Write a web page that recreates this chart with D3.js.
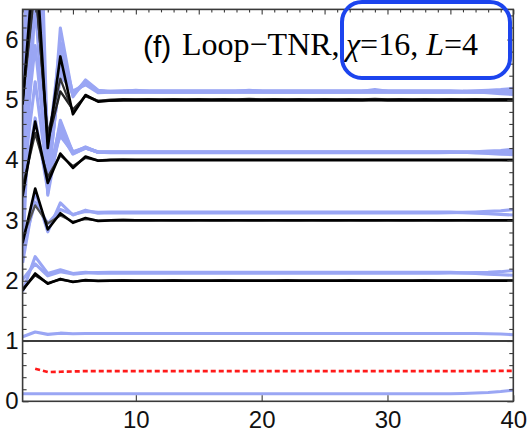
<!DOCTYPE html>
<html>
<head>
<meta charset="utf-8">
<script src="https://cdn.jsdelivr.net/npm/d3@7"></script>
<style>
  html, body { margin: 0; padding: 0; background: #fff; }
  svg { display: block; }
</style>
</head>
<body>
<svg id="chart" width="528" height="432"></svg>
<script>
// RG step index
const steps = [1,2,3,4,5,6,7,8,9,10, 11,12,13,14,15,16,17,18,19,20,
               21,22,23,24,25,26,27,28,29,30, 31,32,33,34,35,36,37,38,39,40];

// Z2-even scaling dimensions (black / dark gray)
const eps1 = [1,1,1,1,1,1,1,1,1,1, 1,1,1,1,1,1,1,1,1,1, 1,1,1,1,1,1,1,1,1,1, 1,1,1,1,1,1,1,1,1,1];
const even2a = [1.84,2.12,1.95,2.03,1.98,2.01,1.995,2,2,2, 2,2,2,2,2,2,2,2,2,2, 2,2,2,2,2,2,2,2,2,2, 2,2,2,2,2,2,2,2,2,2];
const even2b = [1.86,2.09,1.96,2.02,1.985,2.005,2,2.005,2.008,2.005, 2.006,2.005,2.007,2.006,2.005,2.006,2.007,2.005,2.006,2.005, 2.006,2.007,2.005,2.006,2.005,2.006,2.007,2.006,2.005,2.006, 2.005,2.006,2.007,2.005,2.006,2.005,2.006,2.005,2.004,2.003];
const even3a = [2.62,3.53,2.85,3.12,2.96,3.04,2.99,3,3.005,3, 3,3,3,3,3,3,3,3,3,3, 3,3,3,3,3,3,3,3,3,3, 3,3,3,3,3,3,3,3,3,3];
const even3b = [2.72,3.25,2.95,3.08,2.98,3.02,3,3.006,3.008,3.006, 3.006,3.007,3.006,3.006,3.007,3.006,3.006,3.007,3.006,3.006, 3.007,3.006,3.006,3.007,3.006,3.006,3.007,3.006,3.006,3.007, 3.006,3.006,3.007,3.006,3.006,3.007,3.006,3.005,3.004,3.003];
const even4a = [3.40,4.64,3.62,4.11,3.87,4.06,3.99,4,4,4, 4,4,4,4,4,4,4,4,4,4, 4,4,4,4,4,4,4,4,4,4, 4,4,4,4,4,4,4,4,4,4];
const even4b = [3.55,4.45,3.72,4.08,3.90,4.04,3.995,4.006,4.01,4.006, 4.006,4.007,4.006,4.006,4.007,4.006,4.006,4.007,4.006,4.006, 4.007,4.006,4.006,4.007,4.006,4.006,4.007,4.006,4.006,4.007, 4.006,4.006,4.007,4.006,4.006,4.007,4.006,4.005,4.004,4.003];
const even5a = [4.92,7.60,4.20,5.72,4.76,5.08,4.97,4.99,5,5, 5,5,5,5,5,5,5,5,5,5, 5,5,5,5,5,5,5,5,5,5, 5,5,5,5,5,5,5,5,5,5];
const even5b = [5.02,7.00,4.32,5.14,4.84,5.06,4.98,4.985,4.99,4.99, 4.988,4.99,4.99,4.988,4.99,4.99,4.988,4.99,4.99,4.988, 4.99,4.99,4.988,4.99,4.99,4.988,4.99,4.99,4.995,4.99, 4.988,4.99,4.99,4.988,4.99,4.99,4.988,4.99,4.99,4.99];
const even5c = [4.96,6.90,4.42,5.35,4.80,5.07,4.985,5.005,5.012,5.01, 5.012,5.01,5.012,5.01,5.012,5.01,5.012,5.01,5.015,5.01, 5.012,5.01,5.012,5.01,5.012,5.01,5.012,5.01,5.018,5.01, 5.012,5.01,5.012,5.01,5.012,5.01,5.012,5.01,5.012,5.01];

// Z2-odd scaling dimensions (light blue)
const odd0 = [0.125,0.125,0.125,0.125,0.125,0.125,0.125,0.125,0.125,0.125, 0.125,0.125,0.125,0.125,0.125,0.125,0.125,0.125,0.125,0.125, 0.125,0.125,0.125,0.125,0.125,0.125,0.125,0.125,0.125,0.125, 0.125,0.125,0.125,0.125,0.126,0.13,0.137,0.147,0.162,0.185];
const odd1 = [1.07,1.15,1.11,1.13,1.12,1.125,1.125,1.125,1.125,1.125, 1.125,1.125,1.125,1.125,1.125,1.125,1.125,1.125,1.125,1.125, 1.125,1.125,1.125,1.125,1.125,1.125,1.125,1.125,1.125,1.125, 1.125,1.125,1.125,1.125,1.125,1.125,1.124,1.12,1.115,1.105];
const odd2a = [1.82,2.40,2.12,2.18,2.12,2.14,2.125,2.13,2.125,2.125, 2.125,2.125,2.125,2.125,2.125,2.125,2.125,2.125,2.125,2.125, 2.125,2.125,2.125,2.125,2.125,2.125,2.125,2.125,2.125,2.125, 2.125,2.125,2.125,2.125,2.127,2.13,2.135,2.14,2.15,2.17];
const odd2b = [2.02,2.28,2.08,2.15,2.11,2.13,2.135,2.14,2.14,2.14, 2.14,2.14,2.14,2.14,2.14,2.14,2.14,2.14,2.14,2.14, 2.14,2.14,2.14,2.14,2.14,2.14,2.14,2.14,2.14,2.14, 2.14,2.14,2.14,2.14,2.138,2.13,2.12,2.11,2.10,2.09];
const odd3a = [2.30,3.48,2.81,3.29,3.09,3.17,3.12,3.13,3.125,3.125, 3.125,3.125,3.125,3.125,3.125,3.125,3.125,3.125,3.125,3.125, 3.125,3.125,3.125,3.125,3.125,3.125,3.125,3.125,3.125,3.125, 3.125,3.125,3.125,3.125,3.128,3.133,3.14,3.15,3.16,3.18];
const odd3b = [2.55,3.30,2.95,3.18,3.10,3.15,3.135,3.14,3.14,3.14, 3.14,3.14,3.14,3.14,3.14,3.14,3.14,3.14,3.14,3.14, 3.14,3.14,3.14,3.14,3.14,3.14,3.14,3.14,3.14,3.14, 3.14,3.14,3.14,3.14,3.138,3.13,3.12,3.11,3.10,3.09];
const odd4a = [3.40,4.70,3.50,4.66,4.12,4.22,4.13,4.125,4.125,4.125, 4.125,4.125,4.125,4.125,4.125,4.125,4.125,4.125,4.125,4.125, 4.125,4.125,4.125,4.125,4.125,4.125,4.125,4.125,4.125,4.125, 4.125,4.125,4.125,4.125,4.128,4.133,4.14,4.15,4.16,4.18];
const odd4b = [3.75,6.90,3.58,4.45,4.10,4.20,4.14,4.14,4.14,4.14, 4.14,4.14,4.14,4.14,4.14,4.14,4.14,4.14,4.14,4.14, 4.14,4.14,4.14,4.14,4.14,4.14,4.14,4.14,4.14,4.14, 4.14,4.14,4.14,4.14,4.138,4.13,4.12,4.11,4.10,4.09];
const odd4c = [2.30,7.40,3.42,4.55,4.14,4.21,4.13,4.13,4.13,4.13, 4.13,4.13,4.13,4.13,4.13,4.13,4.13,4.13,4.13,4.13, 4.13,4.13,4.13,4.13,4.13,4.13,4.13,4.13,4.13,4.13, 4.13,4.13,4.13,4.13,4.13,4.13,4.13,4.13,4.13,4.13];
const odd4d = [3.10,6.60,3.65,4.60,4.11,4.20,4.13,4.13,4.13,4.13, 4.13,4.13,4.13,4.13,4.13,4.13,4.13,4.13,4.13,4.13, 4.13,4.13,4.13,4.13,4.13,4.13,4.13,4.13,4.13,4.13, 4.13,4.13,4.13,4.13,4.13,4.13,4.13,4.13,4.13,4.13];
const odd4e = [3.60,5.30,3.70,4.50,4.12,4.21,4.13,4.13,4.13,4.13, 4.13,4.13,4.13,4.13,4.13,4.13,4.13,4.13,4.13,4.13, 4.13,4.13,4.13,4.13,4.13,4.13,4.13,4.13,4.13,4.13, 4.13,4.13,4.13,4.13,4.13,4.13,4.13,4.13,4.13,4.13];
const odd4f = [4.00,5.90,3.85,4.40,4.13,4.20,4.13,4.13,4.13,4.13, 4.13,4.13,4.13,4.13,4.13,4.13,4.13,4.13,4.13,4.13, 4.13,4.13,4.13,4.13,4.13,4.13,4.13,4.13,4.13,4.13, 4.13,4.13,4.13,4.13,4.13,4.13,4.13,4.13,4.13,4.13];
const odd5a = [5.10,8.50,3.45,6.19,5.05,5.33,5.16,5.13,5.14,5.16, 5.14,5.13,5.13,5.13,5.13,5.13,5.13,5.14,5.16,5.14, 5.13,5.13,5.13,5.13,5.13,5.13,5.13,5.14,5.17,5.14, 5.13,5.13,5.13,5.13,5.135,5.14,5.15,5.16,5.17,5.19];
const odd5b = [4.80,8.00,3.62,5.50,5.10,5.28,5.14,5.14,5.15,5.15, 5.15,5.15,5.15,5.15,5.15,5.15,5.15,5.15,5.15,5.15, 5.15,5.15,5.15,5.15,5.15,5.15,5.15,5.15,5.15,5.15, 5.15,5.15,5.15,5.15,5.148,5.14,5.13,5.12,5.10,5.09];
const odd5c = [4.50,7.80,3.80,5.40,5.15,5.25,5.12,5.125,5.125,5.125, 5.125,5.125,5.125,5.125,5.125,5.125,5.125,5.125,5.125,5.125, 5.125,5.125,5.125,5.125,5.125,5.125,5.125,5.125,5.125,5.125, 5.125,5.125,5.125,5.125,5.125,5.125,5.125,5.125,5.125,5.125];
const odd5d = [4.20,9.00,3.55,5.60,5.12,5.27,5.14,5.13,5.13,5.13, 5.13,5.13,5.13,5.13,5.13,5.13,5.13,5.13,5.13,5.13, 5.13,5.13,5.13,5.13,5.13,5.13,5.13,5.13,5.13,5.13, 5.13,5.13,5.13,5.13,5.13,5.13,5.13,5.13,5.13,5.13];
const odd5e = [3.60,7.20,3.90,5.80,5.08,5.30,5.15,5.14,5.14,5.14, 5.14,5.14,5.14,5.14,5.14,5.14,5.14,5.14,5.14,5.14, 5.14,5.14,5.14,5.14,5.14,5.14,5.14,5.14,5.14,5.14, 5.14,5.14,5.14,5.14,5.14,5.14,5.14,5.14,5.14,5.14];
const odd5f = [5.20,11.0,4.10,5.95,5.10,5.31,5.15,5.13,5.13,5.13, 5.13,5.13,5.13,5.13,5.13,5.13,5.13,5.13,5.13,5.13, 5.13,5.13,5.13,5.13,5.13,5.13,5.13,5.13,5.13,5.13, 5.13,5.13,5.13,5.13,5.13,5.13,5.13,5.13,5.13,5.13];

// Central charge estimate (red dotted), defined from step 2
const central = [null,0.54,0.485,0.49,0.495,0.5,0.5,0.5,0.5,0.5, 0.5,0.5,0.5,0.5,0.5,0.5,0.5,0.5,0.5,0.5, 0.5,0.5,0.5,0.5,0.5,0.5,0.5,0.5,0.5,0.5, 0.5,0.5,0.5,0.5,0.5,0.5,0.5,0.502,0.504,0.506];

const xTickValues = [10, 20, 30, 40];
const yTickValues = [0, 1, 2, 3, 4, 5, 6];

const oddSeries = [odd0, odd1, odd2a, odd2b, odd3a, odd3b,
                   odd4f, odd4e, odd4d, odd4c, odd4b, odd4a,
                   odd5f, odd5e, odd5d, odd5c, odd5b, odd5a];
const evenSeries = [
  { v: eps1,   c: "#3c3c3c", w: 2.2 },
  { v: even2b, c: "#222222", w: 2.4 },
  { v: even2a, c: "#000000", w: 2.6 },
  { v: even3b, c: "#555555", w: 2.2 },
  { v: even3a, c: "#000000", w: 2.6 },
  { v: even4b, c: "#333333", w: 2.4 },
  { v: even4a, c: "#000000", w: 2.6 },
  { v: even5b, c: "#222222", w: 2.4 },
  { v: even5c, c: "#333333", w: 2.2 },
  { v: even5a, c: "#000000", w: 2.6 }
];

const svg = d3.select("#chart");
const L = 22.6, R = 513.3, T = 9.4, B = 401.3;
const x = d3.scaleLinear().domain([1, 40]).range([L, R]);
const y = d3.scaleLinear().domain([0, 6.5]).range([B, T]);

svg.append("defs").append("clipPath").attr("id", "plotClip")
  .append("rect").attr("x", L).attr("y", T).attr("width", R - L).attr("height", B - T);

const line = d3.line()
  .defined(d => d[1] !== null)
  .x(d => x(d[0]))
  .y(d => y(d[1]));
const pts = vals => steps.map((s, i) => [s, vals[i]]);

const plot = svg.append("g").attr("clip-path", "url(#plotClip)");

plot.selectAll("path.odd").data(oddSeries).join("path")
  .attr("class", "odd")
  .attr("d", v => line(pts(v)))
  .attr("fill", "none")
  .attr("stroke", "#9aa6f4")
  .attr("stroke-width", 3.1)
  .attr("stroke-linejoin", "round");

plot.selectAll("path.even").data(evenSeries).join("path")
  .attr("class", "even")
  .attr("d", s => line(pts(s.v)))
  .attr("fill", "none")
  .attr("stroke", s => s.c)
  .attr("stroke-width", s => s.w)
  .attr("stroke-linejoin", "round");

plot.append("path")
  .attr("d", line(pts(central)))
  .attr("fill", "none")
  .attr("stroke", "#ff1a1a")
  .attr("stroke-width", 2.7)
  .attr("stroke-dasharray", "5,3");

// Frame and ticks
const axisColor = "#3a3a3a";
const styleAxis = g => {
  g.select(".domain").remove();
  g.selectAll(".tick line").attr("stroke", axisColor).attr("stroke-width", 1.1);
  g.selectAll(".tick text")
    .attr("fill", "#111")
    .style("font-family", "'Liberation Sans', Arial, sans-serif")
    .style("font-size", "24px");
};

const yMinor = d3.range(0, 6.5, 0.2).filter(v => Math.abs(v - Math.round(v)) > 1e-6);
const xMinorTop = d3.range(1, 41, 1);

// left
svg.append("g").attr("transform", `translate(${L},0)`)
  .call(d3.axisLeft(y).tickValues(yMinor).tickSize(-4).tickFormat(""))
  .call(styleAxis);
svg.append("g").attr("transform", `translate(${L},0)`)
  .call(d3.axisLeft(y).tickValues(yTickValues).tickSize(-6).tickPadding(4).tickFormat(d3.format("d")))
  .call(styleAxis);
// right
svg.append("g").attr("transform", `translate(${R},0)`)
  .call(d3.axisRight(y).tickValues(yMinor).tickSize(-4).tickFormat(""))
  .call(styleAxis);
svg.append("g").attr("transform", `translate(${R},0)`)
  .call(d3.axisRight(y).tickValues(yTickValues).tickSize(-6).tickFormat(""))
  .call(styleAxis);
// bottom
svg.append("g").attr("transform", `translate(0,${B})`)
  .call(d3.axisBottom(x).tickValues(xTickValues).tickSize(-6).tickPadding(10).tickFormat(d3.format("d")))
  .call(styleAxis);
// top
svg.append("g").attr("transform", `translate(0,${T})`)
  .call(d3.axisTop(x).tickValues(xMinorTop.filter(v => v % 5 !== 0)).tickSize(-3).tickFormat(""))
  .call(styleAxis);
svg.append("g").attr("transform", `translate(0,${T})`)
  .call(d3.axisTop(x).tickValues(xMinorTop.filter(v => v % 5 === 0)).tickSize(-5).tickFormat(""))
  .call(styleAxis);

svg.append("rect")
  .attr("x", L).attr("y", T).attr("width", R - L).attr("height", B - T)
  .attr("fill", "none").attr("stroke", axisColor).attr("stroke-width", 1.6);

// Panel label
const title = svg.append("g").attr("fill", "#000");
title.append("text").attr("x", 143).attr("y", 57)
  .style("font-family", "'Liberation Sans', Arial, sans-serif").style("font-size", "30px")
  .text("(f)");
const t2 = title.append("text").attr("y", 55)
  .style("font-family", "'Liberation Serif', 'Times New Roman', serif").style("font-size", "32px");
t2.append("tspan").attr("x", 182).text("Loop\u2212TNR,");
t2.append("tspan").attr("x", 346).style("font-style", "italic").text("\u03c7");
t2.append("tspan").text("=16, ");
t2.append("tspan").style("font-style", "italic").text("L");
t2.append("tspan").text("=4");

svg.append("rect")
  .attr("x", 342).attr("y", 2).attr("width", 168).attr("height", 76)
  .attr("rx", 20).attr("ry", 20)
  .attr("fill", "none").attr("stroke", "#1c44ee").attr("stroke-width", 4);
</script>
</body>
</html>
